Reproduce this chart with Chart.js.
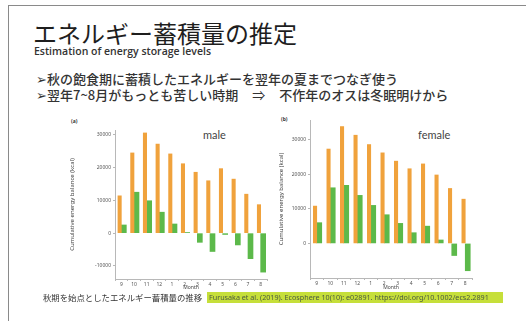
<!DOCTYPE html>
<html>
<head>
<meta charset="utf-8">
<script src="https://cdn.jsdelivr.net/npm/chart.js@4/dist/chart.umd.min.js"></script>
<style>
  html, body { margin: 0; padding: 0; background: #fff; }
  body { width: 526px; height: 321px; position: relative; overflow: hidden;
         font-family: "Noto Sans CJK JP", "Noto Sans", sans-serif; color: #222; }
  .frame { position: absolute; left: 8px; top: 5px; width: 530px; height: 330px;
           border-left: 1.5px solid #8a8a8a; border-top: 1.5px solid #8a8a8a; }
  .abs { position: absolute; white-space: nowrap; line-height: 1; }
  #title { left: 33px; top: 21px; font-size: 24px; color: #1e1e1e; }
  #subtitle { left: 34px; top: 46px; font-family: "Open Sans", sans-serif; font-weight: 600;
              font-size: 10.5px; color: #333; }
  .bullet { left: 36px; font-size: 13px; font-weight: 500; color: #333; }
  #b1 { top: 72px; }
  #b2 { top: 88px; }
  .arrow { display: inline-block; margin: 0 14px 0 14px; font-weight: normal; }
  #foot { left: 43px; top: 293px; font-size: 8.4px; color: #333; }
  #cite { left: 207px; top: 292px; width: 296px; height: 11px; background: #c6df3a;
          font-family: "Noto Sans", sans-serif; font-size: 7.2px; line-height: 11px;
          color: #4a5a40; padding-left: 2px; box-sizing: border-box; overflow: hidden; }
  .panel { position: absolute; font-family: "Noto Sans", sans-serif; font-size: 5px;
           font-weight: bold; color: #333; line-height: 1; }
  .sex { position: absolute; font-family: "Lato", sans-serif; font-size: 11px; color: #444; line-height: 1; }
  canvas { position: absolute; }
</style>
</head>
<body>
<div class="frame"></div>
<div class="abs" id="title">エネルギー蓄積量の推定</div>
<div class="abs" id="subtitle">Estimation of energy storage levels</div>
<div class="abs bullet" id="b1">➢秋の飽食期に蓄積したエネルギーを翌年の夏までつなぎ使う</div>
<div class="abs bullet" id="b2">➢翌年7~8月がもっとも苦しい時期<span class="arrow">⇒</span>不作年のオスは冬眠明けから</div>

<div class="panel" style="left:71px; top:119px;">(a)</div>
<div class="sex" style="left:203px; top:129px;">male</div>
<div class="panel" style="left:281px; top:117px;">(b)</div>
<div class="sex" style="left:418px; top:129px;">female</div>

<canvas id="male" width="210" height="180" style="left:62px; top:112px;"></canvas>
<canvas id="female" width="207" height="184" style="left:270px; top:108px;"></canvas>

<div class="abs" id="foot">秋期を始点としたエネルギー蓄積量の推移</div>
<div class="abs" id="cite">Furusaka et al. (2019). Ecosphere 10(10): e02891. https://doi.org/10.1002/ecs2.2891</div>

<script>
// Months from September (start of autumn) to the following August
const months = ['9', '10', '11', '12', '1', '2', '3', '4', '5', '6', '7', '8'];

// Cumulative energy balance (kcal), males
const maleGoodYear = [11400, 24500, 30600, 27200, 24200, 21200, 18600, 16000, 19700, 16500, 11900, 8700];
const malePoorYear = [2500, 12500, 9900, 6400, 2800, 200, -2800, -5600, -400, -3600, -7800, -11900];

// Cumulative energy balance (kcal), females
const femaleGoodYear = [10800, 27300, 33800, 31300, 28600, 26200, 23800, 21600, 23000, 19800, 15900, 12800];
const femalePoorYear = [6000, 16100, 16800, 13900, 11000, 8300, 5800, 3100, 5000, 1000, -3500, -7900];

// Labelled y-axis values
const maleYTicks = [-10000, 0, 10000, 20000, 30000];
const femaleYTicks = [0, 10000, 20000, 30000];

const ORANGE = '#f0a23c';
const GREEN = '#5cb94a';
const AXIS = '#b8b8b8';

function makeChart(id, good, poor, yTicks, yMin, yMax, cfg) {
  return new Chart(document.getElementById(id), {
    type: 'bar',
    data: {
      labels: months,
      datasets: [
        { data: good, backgroundColor: ORANGE, barThickness: 3.4 },
        { data: poor, backgroundColor: GREEN, barThickness: 5 }
      ]
    },
    options: {
      responsive: false,
      animation: false,
      layout: { padding: { top: cfg.padTop, right: 5, left: 0, bottom: 0 } },
      plugins: { legend: { display: false }, tooltip: { enabled: false } },
      scales: {
        x: {
          grid: { drawOnChartArea: false, drawTicks: true, tickLength: 2, color: AXIS },
          border: { color: AXIS, width: 1 },
          ticks: { font: { size: 5, family: 'Noto Sans' }, color: '#555', padding: 1, maxRotation: 0 },
          title: { display: true, text: 'Month', font: { size: 5, family: 'Noto Sans' }, color: '#444',
                   padding: { top: 0, bottom: 1 } },
          afterFit: (s) => { s.height = cfg.xHeight; }
        },
        y: {
          min: yMin,
          max: yMax,
          afterBuildTicks: (s) => { s.ticks = yTicks.map((v) => ({ value: v })); },
          grid: { drawOnChartArea: false, drawTicks: true, tickLength: 2, color: AXIS },
          border: { color: AXIS, width: 1 },
          ticks: {
            font: { size: 5, family: 'Noto Sans' },
            color: '#555',
            padding: 2,
            callback: (v) => String(v)
          },
          title: { display: true, text: 'Cumulative energy balance (kcal)',
                   font: { size: 6, family: 'Noto Sans' }, color: '#444',
                   padding: { top: cfg.titlePad, bottom: 0 } },
          afterFit: (s) => { s.width = cfg.yWidth; }
        }
      }
    }
  });
}

makeChart('male', maleGoodYear, malePoorYear, maleYTicks, -14000, 31500,
          { padTop: 18, xHeight: 13, yWidth: 53, titlePad: 7 });
makeChart('female', femaleGoodYear, femalePoorYear, femaleYTicks, -10000, 35700,
          { padTop: 12, xHeight: 14, yWidth: 40, titlePad: 8 });
</script>
</body>
</html>
